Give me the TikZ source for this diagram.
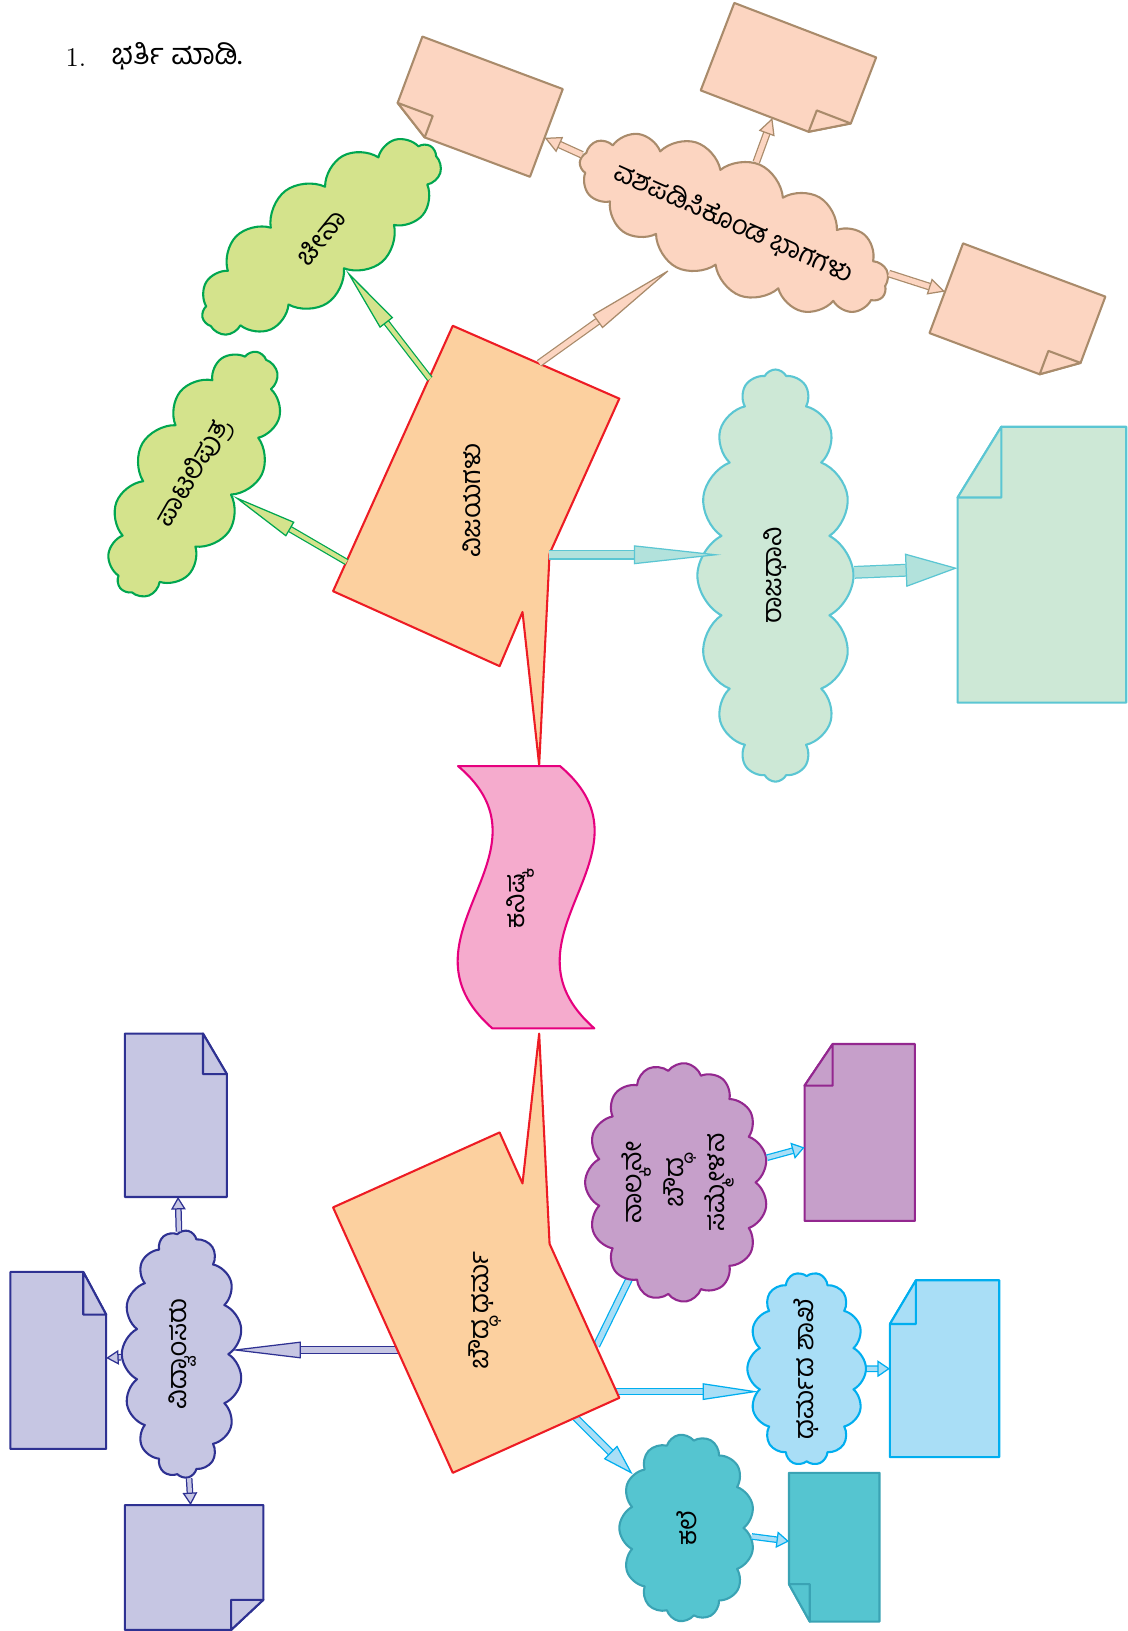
\documentclass[tikz,border=0pt]{standalone}
\usepackage{fontspec}
\newfontfamily\kn[Script=Kannada]{Hind Mysuru}
\usetikzlibrary{arrows.meta,shapes.symbols,calc,backgrounds}

\definecolor{peachF}{HTML}{FCD5C1}
\definecolor{peachD}{HTML}{A98B6B}
\definecolor{limeF}{HTML}{D4E38C}
\definecolor{greenD}{HTML}{00A650}
\definecolor{boxF}{HTML}{FCD09F}
\definecolor{redD}{HTML}{ED1C24}
\definecolor{pinkF}{HTML}{F5ABCD}
\definecolor{magD}{HTML}{E6007E}
\definecolor{mintF}{HTML}{CDE8D6}
\definecolor{mintA}{HTML}{B2E2DC}
\definecolor{cyanD}{HTML}{5BC6D3}
\definecolor{purF}{HTML}{C69FCA}
\definecolor{purD}{HTML}{93278F}
\definecolor{skyF}{HTML}{A9DEF6}
\definecolor{skyD}{HTML}{00AEEF}
\definecolor{tealF}{HTML}{55C5D0}
\definecolor{tealD}{HTML}{3AA3B4}
\definecolor{lavF}{HTML}{C6C6E3}
\definecolor{navyD}{HTML}{2E3192}

% sheet with a folded corner: style, node, cut corner, next, opposite, previous, cut sizes
\newcommand{\sheet}[8][]{%
  \coordinate (#2-a) at ($(#2.#3)!#7!(#2.#4)$);
  \coordinate (#2-b) at ($(#2.#3)!#8!(#2.#6)$);
  \filldraw[#1] (#2-a) -- (#2.#4) -- (#2.#5) -- (#2.#6) -- (#2-b) -- cycle;
  \filldraw[#1] (#2-a) -- (#2-b) -- ($(#2-a)+(#2-b)-(#2.#3)$) -- cycle;
}

\begin{document}
\begin{tikzpicture}[x=0.5pt,y=-0.5pt, line join=round,
  every node/.style={font=\kn\fontsize{13}{16}\selectfont},
  puff/.style={cloud, cloud puffs=#1, cloud puff arc=125, cloud ignores aspect, line width=1pt},
  paper/.style={inner sep=0pt, outer sep=0pt},
  arw/.style n args={5}{draw=#1, double=#2, double distance=#3, line width=0.6pt,
    -{Triangle[length=#4,width=#5,fill=#2,line width=0.6pt]}}]
  \useasboundingbox (0,0) rectangle (1083,1567);

  \node[anchor=west, font=\fontsize{13}{16}\selectfont] (num) at (56,55) {1.};
  \node[anchor=west, font=\kn\fontsize{14}{16}\selectfont] (ttl) at (100,54) {ಭರ್ತಿ ಮಾಡಿ.};

  % the two boxes and the centre
  \filldraw[fill=boxF, draw=redD, line width=1pt] (435,313) -- (595,383) -- (528,532) -- (518,735)
    -- (502,588) -- (480,640) -- (320,568) -- cycle;
  \node[rotate=90] (vjy) at (453,481) {ವಿಜಯಗಳು};
  \filldraw[fill=boxF, draw=redD, line width=1pt] (480,1088) -- (502,1137) -- (518,993) -- (528,1195)
    -- (595,1343) -- (435,1415) -- (320,1160) -- cycle;
  \node[rotate=90] (bdd) at (466,1259) {ಬೌದ್ಧ ಧರ್ಮ};
  \filldraw[fill=pinkF, draw=magD, line width=1pt] (440,736) -- (538,736)
    .. controls (638,820) and (471,900) .. (571,988) -- (473,988)
    .. controls (373,900) and (540,820) .. (440,736) -- cycle;
  \node[rotate=90] (ksk) at (500,865) {ಕನಿಷ್ಕ};

  \coordinate (vj1) at (413,364);
  \coordinate (vj2) at (333,540);
  \coordinate (vj3) at (518,349);
  \coordinate (vj4) at (527,533);
  \coordinate (bd1) at (573,1293);
  \coordinate (bd2) at (592,1337);
  \coordinate (bd3) at (553,1362);
  \coordinate (bd4) at (382,1297);

  % clouds
  \node[puff=15, rotate=-24, fill=peachF, draw=peachD, minimum width=160pt, minimum height=62pt]
    (wsk) at (705,215) {\makebox[0pt]{ವಶಪಡಿಸಿಕೊಂಡ ಭಾಗಗಳು}};
  \node[puff=13, rotate=37, fill=limeF, draw=greenD, minimum width=138pt, minimum height=56pt]
    (chn) at (308,228) {\makebox[0pt]{\rotatebox{14}{ಚೀನಾ}}};
  \node[puff=13, rotate=60, fill=limeF, draw=greenD, minimum width=132pt, minimum height=58pt]
    (ptl) at (187,455) {\makebox[0pt]{ಪಾಟಲಿಪುತ್ರ}};
  \node[puff=16, rotate=90, fill=mintF, draw=cyanD, minimum width=198pt, minimum height=75pt]
    (rjd) at (745,553) {\makebox[0pt]{ರಾಜಧಾನಿ}};
  \node[puff=15, rotate=90, fill=purF, draw=purD, minimum width=115pt, minimum height=85pt]
    (smm) at (650,1136) {\makebox[0pt]{\begin{tabular}{@{}c@{}}ನಾಲ್ಕನೇ\\[4pt]ಬೌದ್ಧ\\[4pt]ಸಮ್ಮೇಳನ\end{tabular}}};
  \node[puff=14, rotate=90, fill=skyF, draw=skyD, minimum width=93pt, minimum height=57pt]
    (dpk) at (775,1315) {\makebox[0pt]{ಧರ್ಮದ ಶಾಖೆ}};
  \node[puff=13, rotate=90, fill=tealF, draw=tealD, minimum width=90pt, minimum height=65pt]
    (kle) at (660,1468) {\makebox[0pt]{ಕಲೆ}};
  \node[puff=15, rotate=90, fill=lavF, draw=navyD, minimum width=119pt, minimum height=58pt]
    (vdv) at (175,1301) {\makebox[0pt]{ವಿದ್ವಾಂಸರು}};

  % sheets to fill in
  \node[paper, rotate=-20.5, minimum width=72pt, minimum height=45pt] (pA) at (457.5,102.5) {};
  \sheet[fill=peachF, draw=peachD, line width=1pt]{pA}{south west}{north west}{north east}{south east}{11pt}{18pt}
  \node[paper, rotate=-21, minimum width=73pt, minimum height=45pt] (pB) at (757.5,71) {};
  \sheet[fill=peachF, draw=peachD, line width=1pt]{pB}{south east}{south west}{north west}{north east}{17.5pt}{11pt}
  \node[paper, rotate=-20.5, minimum width=73pt, minimum height=46pt] (pC) at (977.5,302.5) {};
  \sheet[fill=peachF, draw=peachD, line width=1pt]{pC}{south east}{south west}{north west}{north east}{16.5pt}{12pt}
  \node[paper, minimum width=81pt, minimum height=132.5pt] (pD) at (1001,542.5) {};
  \sheet[fill=mintF, draw=cyanD, line width=1pt]{pD}{north west}{north east}{south east}{south west}{21pt}{34pt}
  \node[paper, minimum width=53pt, minimum height=85pt] (pE) at (826,1088) {};
  \sheet[fill=purF, draw=purD, line width=1pt]{pE}{north west}{north east}{south east}{south west}{13.5pt}{20pt}
  \node[paper, minimum width=52.5pt, minimum height=85pt] (pF) at (907.5,1315) {};
  \sheet[fill=skyF, draw=skyD, line width=1pt]{pF}{north west}{north east}{south east}{south west}{12.5pt}{21pt}
  \node[paper, minimum width=43.5pt, minimum height=71.5pt] (pG) at (801.5,1486.5) {};
  \sheet[fill=tealF, draw=tealD, line width=1pt]{pG}{south west}{north west}{north east}{south east}{18pt}{10pt}
  \node[paper, minimum width=49pt, minimum height=78.5pt] (pH) at (169,1071.5) {};
  \sheet[fill=lavF, draw=navyD, line width=1pt]{pH}{north east}{south east}{south west}{north west}{19.5pt}{11.5pt}
  \node[paper, minimum width=46pt, minimum height=85pt] (pI) at (56,1307) {};
  \sheet[fill=lavF, draw=navyD, line width=1pt]{pI}{north east}{south east}{south west}{north west}{20.5pt}{11pt}
  \node[paper, minimum width=66.5pt, minimum height=60pt] (pJ) at (186.5,1506) {};
  \sheet[fill=lavF, draw=navyD, line width=1pt]{pJ}{south east}{south west}{north west}{north east}{15.5pt}{14.5pt}

  % arrows below the lower clouds
  \begin{pgfonlayer}{background}
    \draw[arw={skyD}{skyF}{2.5pt}{20pt}{8pt}, shorten >=-30pt] (bd1) -- (smm);
    \draw[arw={skyD}{skyF}{2.5pt}{27pt}{8pt}, shorten >=-6pt] (bd2) -- (bd2 -| dpk.north);
    \draw[arw={skyD}{skyF}{2.5pt}{15pt}{9pt}] (bd3) -- (kle);
    \draw[arw={navyD}{lavF}{3pt}{34pt}{8pt}] (bd4) -- (bd4 -| vdv.south);
  \end{pgfonlayer}

  % arrows on top
  \draw[arw={greenD}{limeF}{2pt}{32pt}{8pt}] (vj1) -- (chn);
  \draw[arw={greenD}{limeF}{2pt}{32pt}{8pt}] (vj2) -- (ptl);
  \draw[arw={peachD}{peachF}{2.5pt}{45pt}{8pt}] (vj3) -- (wsk);
  \draw[arw={peachD}{peachF}{2.5pt}{8pt}{8pt}] (wsk) -- (pA);
  \draw[arw={peachD}{peachF}{2.5pt}{8pt}{8pt}] (wsk) -- (pB);
  \draw[arw={peachD}{peachF}{2.5pt}{8pt}{8pt}] (wsk) -- (pC);
  \draw[arw={cyanD}{mintA}{3.5pt}{42pt}{9pt}, shorten >=-12pt] (vj4) -- (vj4 -| rjd.north);
  \draw[arw={cyanD}{mintA}{5pt}{25pt}{16pt}] (rjd) -- (pD);
  \draw[arw={skyD}{skyF}{2pt}{6pt}{8pt}] (smm) -- (pE);
  \draw[arw={skyD}{skyF}{2pt}{6pt}{8pt}] (dpk) -- (pF);
  \draw[arw={skyD}{skyF}{2pt}{6pt}{8pt}] (kle) -- (pG);
  \draw[arw={navyD}{lavF}{2pt}{6pt}{7pt}] (vdv) -- (pH);
  \draw[arw={navyD}{lavF}{2pt}{6pt}{7pt}] (vdv) -- (pI);
  \draw[arw={navyD}{lavF}{2pt}{6pt}{7pt}] (vdv) -- (pJ);
\end{tikzpicture}
\end{document}
